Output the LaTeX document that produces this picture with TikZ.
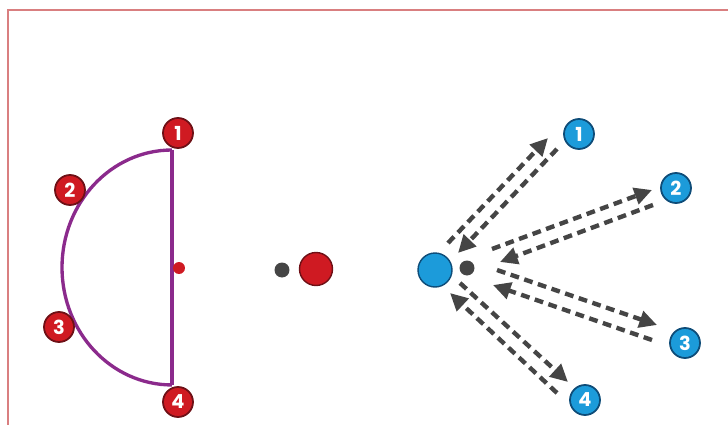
\documentclass[tikz,border=0pt]{standalone}
\usepackage{fontspec}
\setmainfont{Poppins}
\usepackage{tikz}
\usetikzlibrary{arrows.meta,calc}
\definecolor{frame}{HTML}{D97F80}
\definecolor{pred}{HTML}{CF1A22}
\definecolor{pdred}{HTML}{6E1016}
\definecolor{pblue}{HTML}{1C9BDA}
\definecolor{pdblue}{HTML}{0E4C78}
\definecolor{ppurple}{HTML}{8B2A8C}
\definecolor{pgray}{HTML}{454545}
\tikzstyle{rnum}  =[circle, draw=pdred, line width=1pt, fill=pred, text=white, inner sep=0pt,
                    minimum size=0.6cm, font=\fontsize{11}{12}\selectfont\bfseries]
\tikzstyle{bnum}  =[circle, draw=pdblue, line width=1pt, fill=pblue, text=white, inner sep=0pt,
                    minimum size=0.6cm, font=\fontsize{11}{12}\selectfont\bfseries]
\tikzstyle{darr}  =[-{Triangle[length=10pt,width=9.5pt]}, pgray, line width=2.5pt,
                    dash pattern=on 5pt off 3.2pt]
\begin{document}
\begin{tikzpicture}[x=0.02cm, y=0.02cm]
  \useasboundingbox (0,0) rectangle (728,424);

  % ── frame ─────────────────────────────────────────────────────────────────
  \coordinate (fb) at (8,-2);
  \coordinate (fc) at (8,414);
  \coordinate (fr) at (730,414);
  \draw[frame, line width=1.6pt] (fb) -- (fc) -- (fr);

  % ── half circle ───────────────────────────────────────────────────────────
  \coordinate (ctop) at (172,274);
  \coordinate (cbot) at (172,39);
  \draw[ppurple, line width=1.9pt] (ctop) -- (cbot);
  \draw[ppurple, line width=1.9pt] (ctop) arc[start angle=90, end angle=270,
        x radius=2.2cm, y radius=2.35cm];

  % ── nodes ─────────────────────────────────────────────────────────────────
  \node[rnum] (r1) at (178,291) {1};
  \node[rnum] (r2) at (70,234)  {2};
  \node[rnum] (r3) at (59,97)   {3};
  \node[rnum] (r4) at (178,22)  {4};

  \node[circle, fill=pred, minimum size=0.24cm, inner sep=0pt] (cdot) at (179,156) {};
  \node[circle, fill=pgray, minimum size=0.3cm, inner sep=0pt] (gl) at (282,154) {};
  \node[circle, draw=pdred, line width=0.8pt, fill=pred, minimum size=0.66cm, inner sep=0pt]
        (rball) at (316,155) {};

  \node[circle, draw=pdblue, line width=0.8pt, fill=pblue, minimum size=0.68cm, inner sep=0pt]
        (bball) at (435,154) {};
  \node[circle, fill=pgray, minimum size=0.3cm, inner sep=0pt] (gr) at (467,156) {};

  \node[bnum] (b1) at (579,290) {1};
  \node[bnum] (b2) at (676,236) {2};
  \node[bnum] (b3) at (685,81)  {3};
  \node[bnum] (b4) at (585,24)  {4};

  % ── arrow ends ────────────────────────────────────────────────────────────
  \coordinate (o1) at (448,181);  \coordinate (t1) at (548,286);
  \coordinate (s1) at (557,275);  \coordinate (e1) at (458,171);
  \coordinate (o2) at (492,175);  \coordinate (t2) at (652,234);
  \coordinate (s2) at (653,219);  \coordinate (e2) at (500,162);
  \coordinate (o3) at (497,154);  \coordinate (t3) at (657,99);
  \coordinate (s3) at (652,84);   \coordinate (e3) at (493,139);
  \coordinate (o4) at (460,141);  \coordinate (t4) at (568,42);
  \coordinate (s4) at (557,31);   \coordinate (e4) at (450,131);

  % ── arrows ────────────────────────────────────────────────────────────────
  \draw[darr] (o1) -- (t1);
  \draw[darr] (s1) -- (e1);
  \draw[darr] (o2) -- (t2);
  \draw[darr] (s2) -- (e2);
  \draw[darr] (o3) -- (t3);
  \draw[darr] (s3) -- (e3);
  \draw[darr] (o4) -- (t4);
  \draw[darr] (s4) -- (e4);

\end{tikzpicture}
\end{document}
